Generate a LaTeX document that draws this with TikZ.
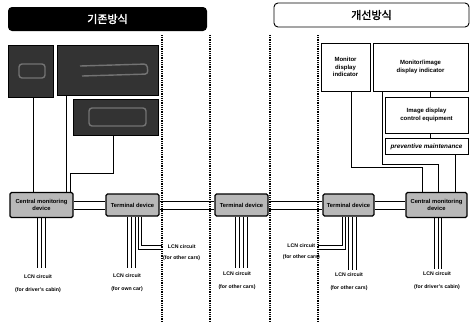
\documentclass[tikz,border=0pt]{standalone}
\usepackage{fontspec}
\setmainfont{Liberation Sans}
\newfontfamily\kr{Noto Sans CJK KR}[FakeBold=2]
\begin{document}
\begin{tikzpicture}[x=1pt,y=-1pt,
  dev/.style={draw,line width=1.1pt,fill=black!28,rounded corners=1.5pt,inner sep=0pt,align=center,font=\bfseries\fontsize{5.8}{6.6}\selectfont},
  wbox/.style={draw,line width=0.8pt,fill=white,inner sep=0pt,align=center,font=\bfseries\fontsize{6}{7.2}\selectfont},
  dbox/.style={draw=black,fill=black!80,inner sep=0pt},
  scrib/.style={draw=black!55,line width=1.4pt,rounded corners=3pt},
  lab/.style={align=center,inner sep=0pt,font=\bfseries\fontsize{5.2}{11}\selectfont},
  lab2/.style={align=center,inner sep=0pt,font=\bfseries\fontsize{5.2}{13}\selectfont},
  wire/.style={line width=0.6pt},
  sep/.style={line width=1.1pt,dash pattern=on 0.9pt off 0.9pt},
  hdr/.style={rounded corners=4pt,inner sep=0pt,font=\kr\fontsize{11}{12}\selectfont}
]
\useasboundingbox (0,0) rectangle (474,322);
% headers
\node[hdr,fill=black,text=white,minimum width=199,minimum height=24] (h1) at (107.5,19) {기존방식};
\node[hdr,draw,line width=0.9pt,minimum width=195,minimum height=24] (h2) at (371.5,15) {개선방식};
% separators
\draw[sep] (162,35) -- (162,322);
\draw[sep] (210,35) -- (210,322);
\draw[sep] (270,35) -- (270,322);
\draw[sep] (318,35) -- (318,322);
% dark boxes (existing)
\node[dbox,minimum width=45,minimum height=52] (d1) at (30.5,71) {};
\node[dbox,minimum width=101,minimum height=50] (d2) at (107.5,70) {};
\node[dbox,minimum width=85,minimum height=36] (d3) at (115.5,117) {};
\draw[scrib] (19,64) rectangle (45,78);
\draw[scrib] (80,66) -- (147,64) -- (148,74) -- (82,76);
\draw[scrib] (89,108) rectangle (146,126);
% white boxes (improved)
\node[wbox,minimum width=49,minimum height=48] (mdi) at (345.5,67) {Monitor\\display\\indicator};
\node[wbox,minimum width=95,minimum height=48] (midi) at (420.5,67) {Monitor/image\\display indicator};
\node[wbox,minimum width=83,minimum height=36] (idc) at (426.5,115) {Image display\\control equipment};
\node[wbox,minimum width=83,minimum height=16,font=\bfseries\itshape\fontsize{6.3}{7.2}\selectfont] (pm) at (426.5,146.5) {preventive maintenance};
% devices
\node[dev,minimum width=63,minimum height=25] (cmdl) at (41.5,205) {Central monitoring\\device};
\node[dev,minimum width=53,minimum height=22] (t1) at (132.5,205) {Terminal device};
\node[dev,minimum width=53,minimum height=22] (t2) at (241.5,205) {Terminal device};
\node[dev,minimum width=51,minimum height=22] (t3) at (348.5,205) {Terminal device};
\node[dev,minimum width=61,minimum height=25] (cmdr) at (436.5,205) {Central monitoring\\device};
% upper connectors left
\draw[wire] ([xshift=2.5pt]d1.south) -- ([xshift=-8.5pt]cmdl.north);
\draw[wire] ([xshift=-41.5pt]d2.south) -- ([xshift=24.5pt]cmdl.north);
\draw[wire] ([xshift=-2.5pt]d3.south) -- ++(0,38) -| ([xshift=28.5pt]cmdl.north);
% upper connectors right
\draw[wire] ([xshift=5.5pt]mdi.south) -- ++(0,76) -| ([xshift=-14.5pt]cmdr.north);
\draw[wire] ([xshift=-38.5pt]midi.south) -- ++(0,73) -| ([xshift=1.5pt]cmdr.north);
\draw[wire] ([xshift=28.5pt]pm.south) -- ([xshift=18.5pt]cmdr.north);
\draw[wire] ([xshift=9.5pt]midi.south) -- ([xshift=3.5pt]idc.north);
\draw[wire] ([xshift=3.5pt]idc.south) -- ([xshift=3.5pt]pm.north);
% trunk lines
\foreach \a/\b in {cmdl/t1,t1/t2,t2/t3,t3/cmdr}{
  \draw[wire] ([yshift=4pt]\a.east) -- ([yshift=4pt]\b.west);
  \draw[wire] ([yshift=-4pt]\a.east) -- ([yshift=-4pt]\b.west);
}
% LCN drops
\foreach \s in {-4,0,4} \draw[wire] ([xshift=\s pt]cmdl.south) -- ++(0,50);
\foreach \s in {-5.5,-1.5,2.5} \draw[wire] ([xshift=\s pt]t1.south) -- ++(0,51);
\foreach \s in {-6,-2,2,6} \draw[wire] ([xshift=\s pt]t2.south) -- ++(0,51);
\foreach \s in {-0.5,3.5,7.5} \draw[wire] ([xshift=\s pt]t3.south) -- ++(0,53);
\foreach \s in {-2,1.5,5} \draw[wire] ([xshift=\s pt]cmdr.south) -- ++(0,51);
% branches to other cars
\coordinate (e1) at (162,247);
\coordinate (e3) at (318,247);
\draw[wire] ([xshift=5.5pt]t1.south) |- ([yshift=-2pt]e1);
\draw[wire] ([xshift=8.5pt]t1.south) |- ([yshift=2pt]e1);
\draw[wire] ([xshift=-6.5pt]t3.south) |- ([yshift=2pt]e3);
\draw[wire] ([xshift=-3.5pt]t3.south) |- ([yshift=-2pt]e3);
\node[lab,anchor=west] (lb1) at (163,253) {LCN circuit\\(for other cars)};
\node[lab,anchor=east] (lb3) at (320,252) {LCN circuit\\(for other cars)};
% bottom labels
\node[lab2] (l1) at (38,283.5) {LCN circuit\\(for driver's cabin)};
\node[lab2] (l2) at (127,283) {LCN circuit\\(for own car)};
\node[lab2] (l3) at (237,281) {LCN circuit\\(for other cars)};
\node[lab2] (l4) at (349,281.5) {LCN circuit\\(for other cars)};
\node[lab2] (l5) at (437,281) {LCN circuit\\(for driver's cabin)};
\end{tikzpicture}
\end{document}
